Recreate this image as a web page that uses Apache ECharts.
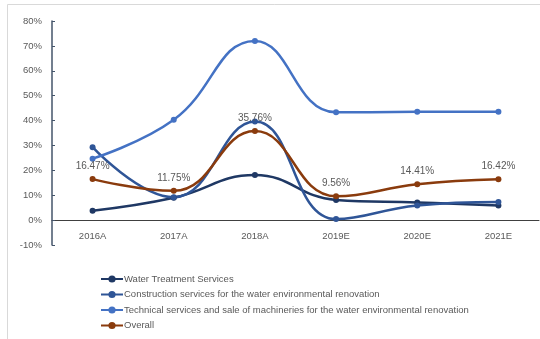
<!DOCTYPE html>
<html>
<head>
<meta charset="utf-8">
<script src="https://cdn.jsdelivr.net/npm/echarts@6/dist/echarts.min.js"></script>
<style>
  html, body { margin: 0; padding: 0; background: #ffffff; }
  #chart { width: 540px; height: 339px; }
</style>
</head>
<body>
<div id="chart"></div>
<script>
// Growth rates by business segment, 2016A–2021E (percent)
const categories = ['2016A', '2017A', '2018A', '2019E', '2020E', '2021E'];
const waterTreatment = [3.8, 9.0, 18.1, 8.1, 7.1, 5.9];
const construction = [29.3, 9.2, 39.6, 0.4, 5.9, 7.3];
const technical = [24.7, 40.3, 72.0, 43.3, 43.5, 43.5];
const overall = [16.47, 11.75, 35.76, 9.56, 14.41, 16.42];

const seriesNames = [
  'Water Treatment Services',
  'Construction services for the water environmental renovation',
  'Technical services and sale of machineries for the water environmental renovation',
  'Overall'
];
const seriesColors = ['#1f3864', '#2f5597', '#4472c4', '#8a3b0d'];
const seriesData = [waterTreatment, construction, technical, overall];

const FONT = 'Liberation Sans, Arial, sans-serif';
const chart = echarts.init(document.getElementById('chart'), null, { renderer: 'canvas' });

const series = seriesData.map((d, i) => ({
  name: seriesNames[i],
  type: 'line',
  data: d,
  smooth: 0.45,
  symbol: 'circle',
  symbolSize: 6,
  lineStyle: { width: 2.5, color: seriesColors[i] },
  itemStyle: { color: seriesColors[i] },
  z: i === 3 ? 5 : 3,
  label: i === 3 ? {
    show: true,
    position: 'top',
    distance: 5,
    color: '#595959',
    fontFamily: FONT,
    fontSize: 10,
    formatter: p => p.value.toFixed(2) + '%'
  } : { show: false }
}));

chart.setOption({
  animation: false,
  backgroundColor: '#ffffff',
  graphic: [{
    type: 'rect',
    shape: { x: 7.5, y: 4.5, width: 700, height: 500 },
    style: { fill: 'none', stroke: '#d9d9d9', lineWidth: 1 },
    silent: true,
    z: -10
  }],
  grid: { left: 52, right: 1, top: 21, bottom: 94 },
  legend: {
    orient: 'vertical',
    left: 100,
    top: 274,
    padding: 0,
    itemGap: 5.5,
    itemWidth: 22,
    itemHeight: 9,
    textStyle: { color: '#595959', fontFamily: FONT, fontSize: 9.5, padding: [0, 0, 0, -4] },
    data: seriesNames
  },
  xAxis: {
    type: 'category',
    data: categories,
    boundaryGap: true,
    axisLine: { onZero: true, lineStyle: { color: '#404040', width: 1 } },
    axisTick: { show: false },
    axisLabel: { color: '#595959', fontFamily: FONT, fontSize: 9.5, margin: -14 },
    splitLine: { show: false }
  },
  yAxis: {
    type: 'value',
    min: -10,
    max: 80,
    interval: 10,
    axisLine: { show: true, lineStyle: { color: '#44546a', width: 1.5 } },
    axisTick: { show: true, inside: true, length: 3, lineStyle: { color: '#44546a' } },
    axisLabel: { color: '#595959', fontFamily: FONT, fontSize: 9.5, margin: 10, formatter: '{value}%' },
    splitLine: { show: false }
  },
  series: series
});
</script>
</body>
</html>
